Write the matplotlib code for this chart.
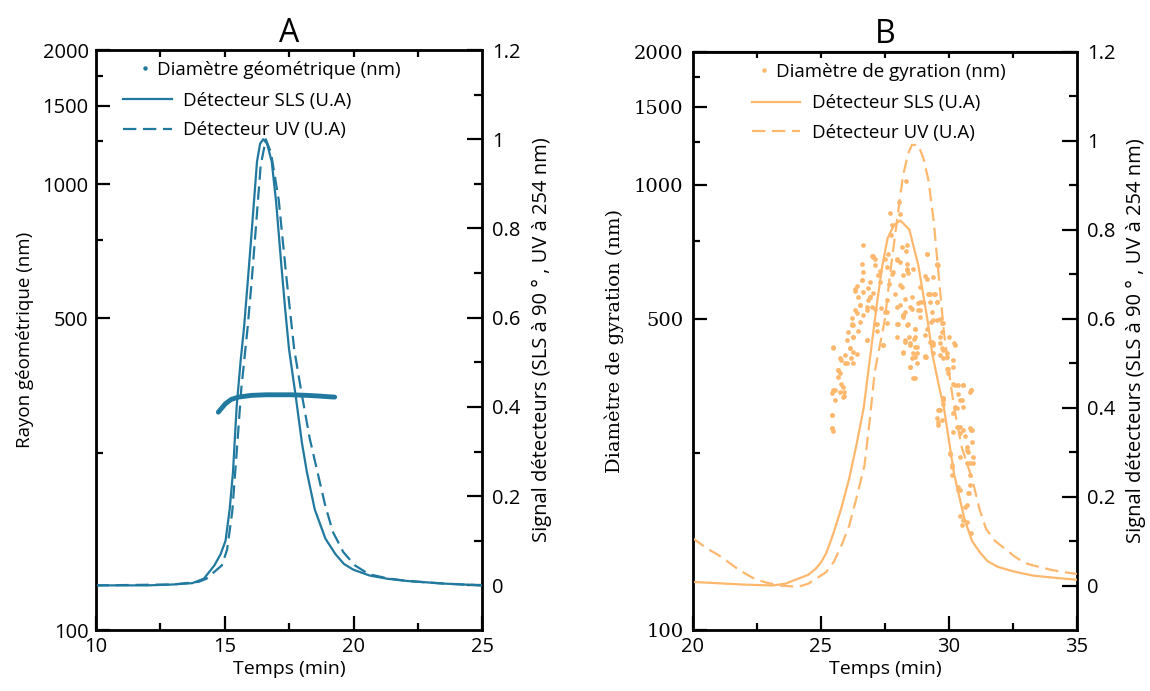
import numpy as np
import matplotlib.pyplot as plt
from matplotlib.lines import Line2D
from matplotlib.ticker import FixedLocator, NullFormatter

plt.rcParams['font.family'] = ['Open Sans', 'DejaVu Sans']

BLUE = "#21799f"
ORANGE = "#fdb86e"

# ---- panel A : diamètre géométrique ----
a_sls_t = [10.0, 12.0, 13.0, 13.75, 14.2, 14.61, 14.85, 15.04, 15.2, 15.33, 15.47, 15.62,
           15.76, 15.9, 16.05, 16.26, 16.38, 16.5, 16.65, 16.83, 17.0, 17.2, 17.35, 17.5,
           17.77, 18.0, 18.19, 18.5, 18.91, 19.3, 19.63, 20.0, 20.63, 21.3, 22.06, 23.5, 25.0]
a_sls_v = [0.0, 0.0, 0.002, 0.005, 0.015, 0.045, 0.07, 0.10, 0.17, 0.255, 0.40, 0.50,
           0.58, 0.68, 0.79, 0.95, 0.99, 1.0, 0.99, 0.95, 0.86, 0.72, 0.62, 0.53,
           0.42, 0.32, 0.255, 0.17, 0.105, 0.07, 0.048, 0.035, 0.022, 0.015, 0.01, 0.004, 0.0]
a_uv_t = [10.0, 13.0, 14.0, 14.3, 14.9, 15.1, 15.3, 15.5, 15.65, 15.9, 16.05, 16.2, 16.4,
          16.6, 16.8, 17.1, 17.4, 17.7, 17.96, 18.3, 18.6, 18.9, 19.2, 19.6, 20.05, 20.6,
          21.3, 22.06, 23.5, 25.0]
a_uv_v = [0.0, 0.002, 0.008, 0.015, 0.045, 0.08, 0.165, 0.32, 0.44, 0.58, 0.68, 0.79, 0.94,
          1.0, 0.97, 0.865, 0.69, 0.53, 0.44, 0.33, 0.255, 0.18, 0.12, 0.075, 0.045, 0.025,
          0.016, 0.01, 0.004, 0.0]
a_diam_t = [14.76, 14.9, 15.04, 15.26, 15.54, 16.05, 16.6, 17.05, 17.6, 18.19, 18.6, 18.91, 19.27]
a_diam_d = [308, 315, 322, 329, 333, 336, 337, 337, 337, 336, 335, 334, 333]

# ---- panel B : diamètre de gyration ----
b_sls_t = [20.0, 21.0, 22.0, 23.1, 23.6, 24.1, 24.5, 24.8, 25.0, 25.2, 25.35, 25.5, 25.8,
           26.1, 26.4, 26.67, 27.0, 27.2, 27.4, 27.6, 27.85, 28.1, 28.45, 28.8, 29.15, 29.35,
           29.6, 29.8, 30.2, 30.6, 30.9, 31.2, 31.5, 31.9, 32.5, 33.3, 34.2, 35.0]
b_sls_v = [0.008, 0.005, 0.002, 0.0, 0.004, 0.015, 0.024, 0.038, 0.052, 0.072, 0.095, 0.12,
           0.175, 0.24, 0.32, 0.40, 0.55, 0.64, 0.72, 0.78, 0.81, 0.82, 0.80, 0.72, 0.60, 0.52,
           0.45, 0.40, 0.25, 0.15, 0.10, 0.075, 0.055, 0.042, 0.032, 0.022, 0.017, 0.013]
b_uv_t = [20.0, 20.5, 21.0, 21.3, 21.8, 22.4, 22.9, 23.4, 24.1, 24.5, 24.8, 25.2, 25.5, 25.8,
          26.1, 26.4, 26.7, 26.9, 27.1, 27.3, 27.5, 27.7, 27.9, 28.2, 28.4, 28.55, 28.8, 29.0,
          29.2, 29.4, 29.56, 29.8, 30.0, 30.2, 30.5, 30.9, 31.2, 31.45, 31.8, 32.2, 32.5, 32.7,
          33.0, 33.3, 34.0, 34.5, 35.0]
b_uv_v = [0.106, 0.085, 0.068, 0.056, 0.035, 0.015, 0.006, 0.0, -0.003, 0.004, 0.015, 0.03,
          0.053, 0.09, 0.134, 0.2, 0.27, 0.37, 0.48, 0.54, 0.60, 0.70, 0.79, 0.92, 0.97, 0.99,
          0.99, 0.96, 0.91, 0.82, 0.72, 0.57, 0.48, 0.40, 0.31, 0.24, 0.17, 0.127, 0.10, 0.082,
          0.068, 0.06, 0.05, 0.045, 0.035, 0.03, 0.026]
b_gyr_t = [28.32, 28.05, 27.69, 28.09, 27.76, 27.72, 26.63, 28.15, 28.32, 27.04, 27.5, 27.95,
           26.61, 27.11, 27.56, 26.63, 28.35, 27.76, 27.24, 26.59, 26.91, 27.3, 28.09, 26.39,
           26.85, 26.33, 26.65, 27.04, 27.89, 26.46, 28.28, 26.85, 27.56, 26.52, 26.98, 27.95,
           26.33, 26.78, 27.5, 28.22, 26.2, 26.65, 26.26, 27.02, 29.15, 29.57, 29.07, 29.22,
           29.43, 29.0, 28.86, 29.29, 29.64, 29.78, 30.0, 30.21, 28.44, 28.65,
           28.35, 29.52, 28.19, 28.58, 28.41, 29.39, 28.15, 28.54, 29.19, 29.45, 28.87, 29.26,
           29.52, 28.28, 28.54, 28.8, 29.32, 28.19, 28.87, 29.39, 29.52, 29.71, 28.41, 28.67,
           29.13, 29.71, 29.06, 28.28, 28.67, 28.48, 28.74, 29.26, 29.39, 29.65, 29.78, 30.23,
           29.1, 29.91, 28.67,
           28.2, 28.61, 29.06, 29.39, 29.65, 29.78, 30.17, 28.48, 28.74, 29.91, 30.17, 29.97,
           28.61, 30.17, 30.56, 30.36, 30.82, 29.78, 29.78, 30.49, 30.3, 30.56, 29.62, 30.17,
           29.54, 29.71, 29.58, 30.43, 30.82, 30.17, 30.43, 30.62, 30.88, 30.69, 30.76, 30.04,
           30.82, 30.1, 30.1, 30.82, 30.36, 30.82,
           30.42, 30.7, 30.49, 30.85, 30.63, 30.78, 30.35, 30.85, 30.35, 30.42, 30.85, 30.35,
           30.92, 30.42, 30.7, 29.64, 29.57, 29.78,
           26.2, 26.52, 27.11, 27.56, 28.02, 28.37, 26.07, 26.26, 26.0, 26.78, 27.98, 27.43,
           25.48, 26.13, 26.26, 28.22, 25.94, 26.39, 26.16, 25.77, 26.26, 26.03, 28.48, 25.68,
           25.74, 25.68, 25.77, 25.87, 25.55, 25.42, 25.74, 25.9, 25.55, 25.9, 25.44, 25.44,
           25.48, 27.2, 27.35, 26.9, 27.8, 26.45, 27.65,
           26.98, 27.1, 27.3, 27.63, 27.96, 28.09, 28.35, 28.35, 29.13, 29.52, 29.13, 28.87,
           29.26, 29.52, 28.8, 28.48, 28.09, 28.22, 27.96, 28.67, 28.28, 28.48, 28.67, 28.74,
           28.54, 28.67, 29.06, 29.32, 29.36, 29.65, 29.71, 29.91, 29.97, 30.23, 30.56, 30.85,
           29.78, 29.58, 30.23, 30.3, 30.56, 30.88, 30.04, 30.1, 30.69, 30.95, 30.43, 30.76,
           30.69, 30.56, 25.48, 25.74, 25.94, 26.13, 26.26, 26.2, 26.39, 26.52, 26.33, 26.59,
           26.91, 26.78, 27.11, 27.17, 27.56, 26.78, 27.43, 25.48, 25.68, 25.87, 25.44, 25.44]
b_gyr_d = [1022, 917, 867, 861, 813, 772, 733, 727, 712, 692, 684, 679,
           665, 661, 655, 639, 646, 633, 628, 614, 606, 606, 596, 593,
           589, 579, 575, 573, 571, 561, 556, 552, 552, 537, 533, 533,
           524, 524, 519, 511, 502, 511, 485, 690, 700, 661, 624, 571,
           571, 548, 524, 493, 500, 490, 456, 441, 456, 452,
           667, 665, 628, 650, 635, 622, 591, 561, 571, 571, 547, 547,
           547, 519, 528, 524, 519, 506, 506, 497, 497, 490, 487, 476,
           476, 468, 460, 448, 455, 437, 433, 444, 437, 441, 426, 437,
           411, 411, 411,
           422, 419, 413, 420, 415, 408, 404, 391, 398, 387, 391, 378,
           368, 358, 355, 340, 343, 332, 323, 329, 315, 318, 312, 307,
           299, 296, 289, 286, 284, 279, 277, 273, 265, 258, 252, 250,
           237, 235, 223, 223, 210, 212,
           180, 175, 172, 165, 189, 203, 206, 346, 355, 329, 281, 286,
           237, 245, 254, 312, 293, 332,
           485, 493, 489, 490, 489, 485, 468, 456, 448, 448, 455, 437,
           430, 430, 422, 420, 415, 417, 410, 404, 398, 398, 391, 384,
           378, 371, 358, 352, 346, 341, 343, 343, 329, 336, 304, 284,
           280, 470, 530, 560, 640, 470, 600,
           695, 684, 643, 700, 684, 673, 733, 650, 700, 661, 617, 591,
           571, 547, 543, 533, 537, 511, 489, 476, 444, 441, 433, 419,
           408, 368, 411, 444, 441, 456, 430, 419, 387, 355, 355, 346,
           329, 312, 318, 286, 281, 281, 249, 233, 237, 245, 206, 203,
           191, 177, 433, 408, 398, 430, 456, 489, 515, 537, 585, 612,
           561, 533, 528, 489, 519, 448, 437, 346, 384, 334, 304, 284]

log_ticks = [100, 500, 1000, 1500, 2000]
log_minor = [250, 750, 1250, 1750]
sig_ticks = [0, 0.2, 0.4, 0.6, 0.8, 1.0, 1.2]
sig_labels = ["0", "0.2", "0.4", "0.6", "0.8", "1", "1.2"]
sig_minor = [0.1, 0.3, 0.5, 0.7, 0.9, 1.1]

W, H = 1150, 691
fig = plt.figure(figsize=(W / 100, H / 100), dpi=100)


def panel(rect, title, t0, ylab, serif):
    l, r, top, bot = rect
    ax = fig.add_axes([l / W, 1 - bot / H, (r - l) / W, (bot - top) / H])
    ax.set_yscale("log")
    ax.set_ylim(100, 2000)
    ax.set_xlim(t0, t0 + 15)
    ax2 = ax.twinx()
    ax2.set_ylim(-0.1, 1.2)

    for s in ax.spines.values():
        s.set_linewidth(2.0)
    if serif:
        ax.set_yticks(log_ticks, labels=[str(v) for v in log_ticks],
                      fontfamily="DejaVu Serif", fontsize=14)
    else:
        ax.set_yticks(log_ticks, labels=[str(v) for v in log_ticks], fontsize=14.5)
    ax.yaxis.set_minor_locator(FixedLocator(log_minor))
    ax.yaxis.set_minor_formatter(NullFormatter())
    ax.set_xticks([t0, t0 + 5, t0 + 10, t0 + 15])
    ax.set_xticks([t0 + 2.5, t0 + 7.5, t0 + 12.5], minor=True)
    ax.tick_params(axis="both", which="major", direction="in", length=10, width=1.6, pad=5)
    ax.tick_params(axis="x", which="major", labelsize=14.5)
    ax.tick_params(axis="both", which="minor", direction="in", length=5, width=1.6)
    if serif:
        ax.tick_params(axis="y", which="major", pad=7)
    sec = ax.secondary_xaxis("top")
    sec.set_xticks([t0 + 2.5, t0 + 5, t0 + 7.5, t0 + 10, t0 + 12.5])
    sec.tick_params(direction="in", length=5, width=1.6, labeltop=False)

    ax2.set_yticks(sig_ticks)
    ax2.set_yticklabels(sig_labels)
    ax2.set_yticks(sig_minor, minor=True)
    ax2.tick_params(which="major", direction="in", length=11, width=1.6, labelsize=14.5, pad=7)
    ax2.tick_params(which="minor", direction="in", length=6, width=1.6)

    ax.set_xlabel("Temps (min)", fontsize=14, labelpad=2)
    if serif:
        ax.set_ylabel(ylab, fontsize=14, family="DejaVu Serif", labelpad=7)
    else:
        ax.set_ylabel(ylab, fontsize=13.5, labelpad=6)
    ax2.set_ylabel("Signal détecteurs (SLS à 90 ° , UV à 254 nm)", fontsize=14.5, labelpad=8)
    ax.set_title(title, fontsize=23, pad=4)
    return ax, ax2


def add_legend(ax2, color, label, dot_x, line_x, y_dot, y_lines):
    dot = Line2D([], [], ls="none", marker="o", ms=3.2, mew=0, color=color)
    leg1 = ax2.legend([dot], [label], loc="center left", bbox_to_anchor=(dot_x, y_dot),
                      frameon=False, fontsize=13.5, handlelength=0.4, handletextpad=0.45,
                      borderpad=0, borderaxespad=0)
    ax2.add_artist(leg1)
    solid = Line2D([], [], color=color, lw=1.6)
    dash = Line2D([], [], color=color, lw=1.6, dashes=(6, 3))
    ax2.legend([solid, dash], ["Détecteur SLS (U.A)", "Détecteur UV (U.A)"],
               loc="center left", bbox_to_anchor=(line_x, y_lines), frameon=False,
               fontsize=13.5, handlelength=2.6, handletextpad=0.62, labelspacing=0.6,
               borderpad=0, borderaxespad=0)


axA, axA2 = panel((95.5, 482.5, 50, 630), "A", 10, "Rayon géométrique (nm)", False)
axA.plot(a_diam_t, a_diam_d, color=BLUE, lw=3.5, solid_capstyle="round")
axA2.plot(a_sls_t, a_sls_v, color=BLUE, lw=1.6)
axA2.plot(a_uv_t, a_uv_v, color=BLUE, lw=1.6, dashes=(6, 3))
add_legend(axA2, BLUE, "Diamètre géométrique (nm)", 0.118, 0.071, 0.9655, 0.887)

axB, axB2 = panel((693, 1077, 51.5, 630), "B", 20, "Diamètre de gyration (nm)", True)
axB.plot(b_gyr_t, b_gyr_d, "o", color=ORANGE, ms=3.4, mew=0)
axB2.plot(b_sls_t, b_sls_v, color=ORANGE, lw=1.6)
axB2.plot(b_uv_t, b_uv_v, color=ORANGE, lw=1.6, dashes=(6, 3))
add_legend(axB2, ORANGE, "Diamètre de gyration (nm)", 0.174, 0.1526, 0.9646, 0.885)

fig.savefig("out.png", dpi=100)
